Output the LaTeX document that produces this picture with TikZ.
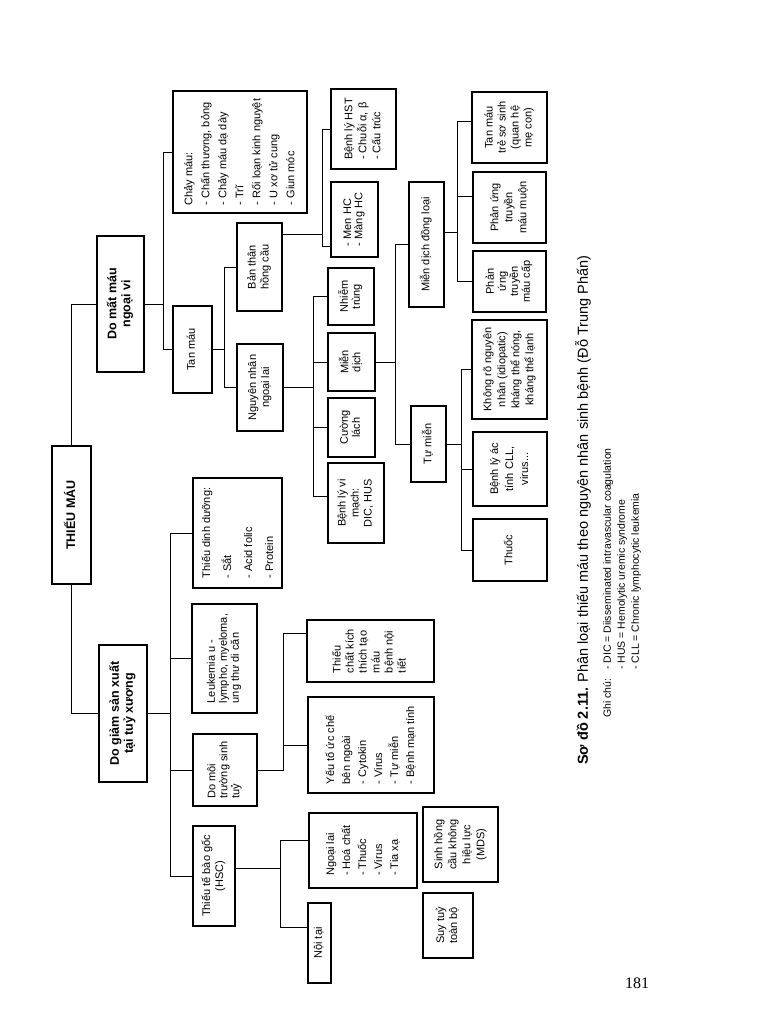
\documentclass[tikz,border=0pt]{standalone}
\usepackage{fontspec}
\setmainfont{Liberation Sans}
\newfontfamily\pagefont{Liberation Serif}
\usepackage{graphicx}
\usetikzlibrary{positioning, calc}

\newcommand{\vtxt}[2][l]{\rotatebox{90}{\begin{tabular}{@{}#1@{}}#2\end{tabular}}}

\begin{document}
\begin{tikzpicture}[x=1pt, y=-1pt,
        box/.style={draw, line width=1.2pt, inner sep=0pt},
        ls/.style={font=\fontsize{11}{#1}\selectfont},
        ls/.default=12,
        bold/.style={font=\fontsize{12.5}{#1}\selectfont\bfseries},
        bold/.default=14,
        sz/.style 2 args={minimum width=#1pt, minimum height=#2pt},
        link/.style={line width=0.9pt}]
        \useasboundingbox (0,0) rectangle (768,1024);

        % goc
        \node[box, bold, sz={39}{138}] (tm) at (71.5,515) {\vtxt[c]{THIẾU MÁU}};
        \node[box, bold=14, sz={47}{136}] (dmm) at (120.5,304) {\vtxt[c]{Do mất máu\\ngoại vi}};
        \node[box, bold=14, sz={48}{137}] (dgsx) at (123,713.5) {\vtxt[c]{Do giảm sản xuất\\tại tuỷ xương}};

        % mat mau ngoai vi
        \node[box, ls=17, sz={134}{122}] (cm) at (240,152) {\vtxt{Chảy máu:\\- Chấn thương, bỏng\\- Chảy máu dạ dày\\- Trĩ\\- Rối loạn kinh nguyệt\\- U xơ tử cung\\- Giun móc}};
        \node[box, ls, sz={39}{87}] (tanmau) at (192.5,349.5) {\vtxt[c]{Tan máu}};
        \node[box, ls=13, sz={45}{88}] (bthc) at (259.5,267) {\vtxt[c]{Bản thân\\hồng cầu}};
        \node[box, ls=13, sz={46}{87}] (nnnl) at (260,387.5) {\vtxt[c]{Nguyên nhân\\ngoại lai}};
        \node[box, ls=14, sz={65}{80}] (hst) at (363.5,129) {\vtxt{Bệnh lý HST\\- Chuỗi α, β\\- Cấu trúc}};
        \node[box, ls=11, sz={47}{75}] (menhc) at (354.5,219.5) {\vtxt{- Men HC\\- Màng HC}};
        \node[box, ls=12, sz={46}{57}] (nhiem) at (351,296.5) {\vtxt[c]{Nhiễm\\trùng}};
        \node[box, ls=12, sz={47}{58}] (mdich) at (351.5,362) {\vtxt[c]{Miễn\\dịch}};
        \node[box, ls=12, sz={47}{59}] (clach) at (351.5,427.5) {\vtxt[c]{Cường\\lách}};
        \node[box, ls=13, sz={56}{80}] (vimach) at (356,503) {\vtxt[c]{Bệnh lý vi\\mạch:\\DIC, HUS}};
        \node[box, ls, sz={35}{125}] (mddl) at (426.5,244.5) {\vtxt[c]{Miễn dịch đồng loại}};
        \node[box, ls, sz={35}{76}] (tumien) at (428.5,444) {\vtxt[c]{Tự miễn}};
        \node[box, ls=13, sz={75}{71}] (tmss) at (509.5,127.5) {\vtxt[c]{Tan máu\\trẻ sơ sinh\\(quan hệ\\mẹ con)}};
        \node[box, ls=14, sz={73}{71}] (pumuon) at (509.5,207.5) {\vtxt[c]{Phản ứng\\truyền\\máu muộn}};
        \node[box, ls=12, sz={73}{61}] (pucap) at (509.5,281.5) {\vtxt[c]{Phản\\ứng\\truyền\\máu cấp}};
        \node[box, ls=14, sz={75}{99}] (khongro) at (509.5,369.5) {\vtxt[c]{Không rõ nguyên\\nhân (idiopatic)\\kháng thể nóng,\\kháng thể lạnh}};
        \node[box, ls=15, sz={74}{74}] (blac) at (510,469) {\vtxt[c]{Bệnh lý ác\\tính CLL,\\virus...}};
        \node[box, ls, sz={74}{62}] (thuoc) at (510,550) {\vtxt[c]{Thuốc}};

        % giam san xuat
        \node[box, ls=21, sz={89}{110}] (tddd) at (237.5,533) {\vtxt{Thiếu dinh dưỡng:\\- Sắt\\- Acid folic\\- Protein}};
        \node[box, ls=12, sz={65}{109}] (leuk) at (224.5,658.5) {\vtxt{Leukemia u -\\lympho, myeloma,\\ung thư di căn}};
        \node[box, ls=12, sz={64}{72}] (dmt) at (225,770) {\vtxt{Do môi\\trường sinh\\tuỷ}};
        \node[box, ls=13, sz={42}{100}] (hsc) at (214,876) {\vtxt[c]{Thiếu tế bào gốc\\(HSC)}};
        \node[box, ls=13, sz={127}{62}] (tck) at (370.5,651) {\vtxt{Thiếu\\chất kích\\thích tạo\\máu\\bệnh nội\\tiết}};
        \node[box, ls=16, sz={126}{96}] (ytuc) at (371,745) {\vtxt{Yếu tố ức chế\\bên ngoài\\- Cytokin\\- Virus\\- Tự miễn\\- Bệnh mạn tính}};
        \node[box, ls=16, sz={108}{75}] (ngoailai) at (363,850.5) {\vtxt{Ngoại lai\\- Hoá chất\\- Thuốc\\- Virus\\- Tia xạ}};
        \node[box, ls, sz={23}{80}] (noitai) at (319.5,943) {\vtxt[c]{Nội tại}};
        \node[box, ls=14, sz={75}{75}] (shc) at (460.5,844.5) {\vtxt[c]{Sinh hồng\\cầu không\\hiệu lực\\(MDS)}};
        \node[box, ls=13, sz={50}{65}] (stb) at (448,925.5) {\vtxt[c]{Suy tuỷ\\toàn bộ}};

        \draw[link] (tm.north) |- (dmm.west);
        \draw[link] (tm.south) |- (dgsx.west);

        \draw[link] (dmm.east) -- ++(18.5,0) coordinate (bdmm);
        \draw[link] (cm.west) -| (bdmm) |- (tanmau.west);

        \draw[link] (tanmau.east) -- ++(12,0) coordinate (btan);
        \draw[link] (bthc.west) -| (btan) |- (nnnl.west);

        \draw[link] ([yshift=33pt]bthc.east) -- ++(40,0) coordinate (bbt);
        \draw[link] (hst.west) -| (bbt) |- ([yshift=-26.5pt]menhc.west);

        \draw[link] (nnnl.east) -- ++(30,0) coordinate (bnn);
        \draw[link] (nhiem.west) -| (bnn) |- ([yshift=7pt]vimach.west);
        \draw[link] (bnn |- mdich.west) -- (mdich.west);
        \draw[link] (bnn |- clach.west) -- (clach.west);

        \draw[link] (mdich.east) -- ++(20,0) coordinate (bmd);
        \draw[link] (mddl.west) -| (bmd) |- (tumien.west);

        \draw[link] ([yshift=12.5pt]mddl.east) -- ++(13,0) coordinate (bdl);
        \draw[link] ([yshift=6.5pt]tmss.west) -| (bdl) |- (pucap.west);
        \draw[link] (bdl |- pumuon.west) ++(0,-11.5) -- ([yshift=11.5pt]pumuon.west);

        \draw[link] (tumien.east) -- ++(15,0) coordinate (btm);
        \draw[link] (khongro.west) -| (btm) |- (thuoc.west);
        \draw[link] (btm |- blac.west) -- (blac.west);

        \draw[link] (dgsx.east) -- ++(23,0) coordinate (bgs);
        \draw[link] (tddd.west) -| (bgs) |- (hsc.west);
        \draw[link] (bgs |- leuk.west) -- (leuk.west);
        \draw[link] (bgs |- dmt.west) -- (dmt.west);

        \draw[link] (dmt.east) -- ++(26,0) coordinate (bmt);
        \draw[link] ([yshift=18pt]tck.west) -| (bmt) |- (ytuc.west);

        \draw[link] ([yshift=8pt]hsc.east) -- ++(45,0) coordinate (bhsc);
        \draw[link] ([yshift=10.5pt]ngoailai.west) -| (bhsc) |- ([yshift=16pt]noitai.west);

        % chu thich
        \node[anchor=south, inner sep=0pt, font=\fontsize{14.5}{17}\selectfont] (title) at (583,765) {\rotatebox{90}{\textbf{Sơ đồ 2.11.} Phân loại thiếu máu theo nguyên nhân sinh bệnh (Đỗ Trung Phấn)}};
        \node[anchor=south, inner sep=0pt, font=\fontsize{10.5}{14}\selectfont] (ghichu) at (622,718) {\rotatebox{90}{\begin{tabular}{@{}l@{\hspace{9pt}}l@{}}Ghi chú: & - DIC = Diisseminated intravascular coagulation\\ & - HUS = Hemolytic uremic syndrome\\ & - CLL = Chronic lymphocytic leukemia\end{tabular}}};
        \node[font=\fontsize{16}{18}\selectfont\pagefont] (pg) at (637,983) {181};
\end{tikzpicture}
\end{document}
